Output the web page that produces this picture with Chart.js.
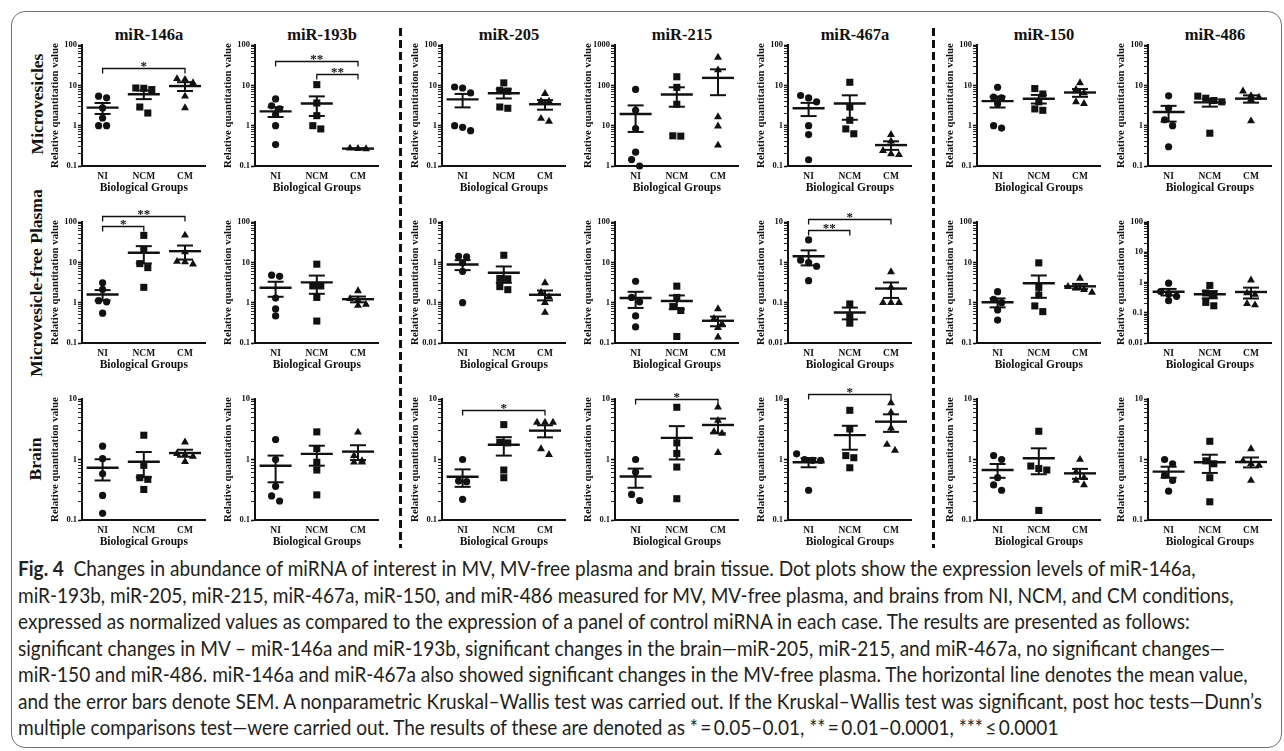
<!DOCTYPE html>
<html>
<head>
<meta charset="utf-8">
<script src="https://cdn.jsdelivr.net/npm/chart.js@4.4.1/dist/chart.umd.min.js"></script>
<style>
    html, body { margin: 0; padding: 0; background: #fff; }
    body { width: 1284px; height: 751px; position: relative; overflow: hidden; }
    #frame { position: absolute; left: 11px; top: 11px; width: 1271px; height: 737px; border: 1.5px solid #707070; border-radius: 14px; box-sizing: border-box; }
    .title { position: absolute; font: bold 16.5px "Liberation Serif", "Times New Roman", serif; color: #111; transform: translate(-50%, -50%); white-space: nowrap; }
    .rowlab { position: absolute; font: bold 17.5px "Liberation Serif", "Times New Roman", serif; color: #111; transform: translate(-50%, -50%) rotate(-90deg); white-space: nowrap; }
    .sep { position: absolute; width: 3px; background: repeating-linear-gradient(to bottom, #111 0 8px, transparent 8px 12px); }
    #caption { position: absolute; left: 18px; top: 555px; font: 20.5px Lato, "Noto Sans", sans-serif; color: #231f20; line-height: 26.5px; transform-origin: 0 0; }
    #caption .line { display: block; white-space: nowrap; width: max-content; }
    #caption b { font-weight: bold; }
    canvas { position: absolute; }
</style>
</head>
<body>
<div id="frame"></div>
<div id="caption">
    <span class="line"><b>Fig. 4</b>&nbsp; Changes in abundance of miRNA of interest in MV, MV-free plasma and brain tissue. Dot plots show the expression levels of miR-146a,</span>
    <span class="line">miR-193b, miR-205, miR-215, miR-467a, miR-150, and miR-486 measured for MV, MV-free plasma, and brains from NI, NCM, and CM conditions,</span>
    <span class="line">expressed as normalized values as compared to the expression of a panel of control miRNA in each case. The results are presented as follows:</span>
    <span class="line">significant changes in MV – miR-146a and miR-193b, significant changes in the brain—miR-205, miR-215, and miR-467a, no significant changes—</span>
    <span class="line">miR-150 and miR-486. miR-146a and miR-467a also showed significant changes in the MV-free plasma. The horizontal line denotes the mean value,</span>
    <span class="line">and the error bars denote SEM. A nonparametric Kruskal–Wallis test was carried out. If the Kruskal–Wallis test was significant, post hoc tests—Dunn’s</span>
    <span class="line">multiple comparisons test—were carried out. The results of these are denoted as *&thinsp;=&thinsp;0.05–0.01, **&thinsp;=&thinsp;0.01–0.0001, ***&thinsp;≤&thinsp;0.0001</span>
</div>
<script>
// ---- labels ----
const MIRNAS = ['miR-146a', 'miR-193b', 'miR-205', 'miR-215', 'miR-467a', 'miR-150', 'miR-486'];
const GROUPS = ['NI', 'NCM', 'CM'];
const TISSUES = ['Microvesicles', 'Microvesicle-free Plasma', 'Brain'];

// ---- Microvesicles (one inner array per miRNA) ----
const mvNI = [
    [5.4, 4.9, 2.75, 1.55, 1.0, 1.0],
    [4.6, 3.1, 2.6, 1.9, 1.0, 0.34],
    [8.6, 9.1, 6.5, 1.0, 0.75, 0.91],
    [79, 24, 8.5, 2.2, 1.44, 1.0],
    [4.87, 5.6, 3.9, 1.0, 0.6, 0.143],
    [8.97, 4.87, 5.1, 3.5, 0.87, 1.0],
    [5.5, 2.7, 1.4, 1.0, 0.3]
];
const mvNCM = [
    [8.45, 7.85, 8.6, 2.9, 2.06],
    [10.4, 3.65, 1.77, 0.83, 1.0],
    [11.5, 7.55, 7.2, 2.7, 2.9],
    [163, 89, 34, 5.5, 5.6],
    [11.9, 2.9, 1.36, 0.63, 0.83],
    [8.3, 6.1, 3.9, 2.4, 2.6],
    [5.4, 4.8, 4.2, 3.9, 0.65]
];
const mvCM = [
    [14.5, 13.9, 11.5, 5.35, 2.75],
    [0.275, 0.27, 0.265],
    [6.2, 4.0, 4.0, 1.28, 1.5],
    [494, 240, 16.5, 9.7, 3.27],
    [0.6, 0.41, 0.24, 0.19, 0.2],
    [11.5, 7.8, 6.5, 3.9, 3.5],
    [7.2, 5.5, 5.0, 4.4, 1.3]
];
const mvMean = [[2.8, 6.0, 9.6], [2.26, 3.53, 0.27], [4.48, 6.37, 3.4], [19.4, 59.5, 153], [2.7, 3.53, 0.33], [4.05, 4.66, 6.64], [2.18, 3.79, 4.68]];
const mvSem = [[0.85, 1.45, 2.36], [0.62, 1.79, 0.004], [1.64, 1.64, 0.91], [12.4, 30, 96], [0.97, 2.13, 0.079], [1.23, 1.12, 1.45], [0.92, 0.83, 0.96]];
const mvRange = [[0.1, 100], [0.1, 100], [0.1, 100], [1, 1000], [0.1, 100], [0.1, 100], [0.1, 100]];
// [fromGroup, toGroup, level, stars]
const mvSig = [[[0, 2, 27, '*']], [[0, 2, 39.7, '**'], [1, 2, 19.6, '**']], [], [], [], [], []];

// ---- Microvesicle-free plasma ----
const plNI = [
    [3.1, 2.13, 1.12, 1.05, 0.55],
    [4.5, 4.8, 1.3, 0.7, 0.47],
    [1.41, 1.36, 0.96, 0.6, 0.1],
    [3.4, 1.35, 1.05, 0.47, 0.25],
    [3.6, 0.98, 1.13, 0.8, 0.35],
    [1.2, 1.87, 1.0, 0.66, 0.37],
    [0.95, 0.5, 0.42, 0.35, 0.25]
];
const plNCM = [
    [46.6, 20.6, 9.3, 7.4, 2.4],
    [9.0, 2.6, 2.6, 1.35, 0.35],
    [1.5, 0.4, 0.39, 0.21, 0.25],
    [2.57, 0.8, 0.64, 1.35, 0.145],
    [0.093, 0.048, 0.031],
    [9.7, 2.4, 1.55, 0.83, 0.6],
    [0.8, 0.45, 0.4, 0.22, 0.17]
];
const plCM = [
    [47, 18, 10.2, 9.0, 10.5],
    [1.95, 1.25, 1.15, 0.9, 0.85],
    [0.31, 0.18, 0.14, 0.1, 0.057],
    [0.7, 0.4, 0.3, 0.24, 0.14],
    [0.58, 0.24, 0.1, 0.1, 0.1],
    [4.0, 2.5, 2.3, 2.1, 1.8],
    [1.2, 0.45, 0.4, 0.2, 0.18]
];
const plMean = [[1.59, 17.3, 18.9], [2.35, 3.18, 1.22], [0.886, 0.55, 0.157], [1.3, 1.1, 0.356], [1.41, 0.057, 0.224], [1.02, 3.02, 2.54], [0.494, 0.41, 0.486]];
const plSem = [[0.46, 7.9, 7.2], [0.95, 1.52, 0.2], [0.245, 0.24, 0.043], [0.56, 0.41, 0.096], [0.57, 0.0185, 0.093], [0.255, 1.7, 0.38], [0.12, 0.11, 0.19]];
const plRange = [[0.1, 100], [0.1, 100], [0.01, 10], [0.1, 100], [0.01, 10], [0.1, 100], [0.01, 100]];
const plSig = [[[0, 2, 137, '**'], [0, 1, 77.6, '*']], [], [], [], [[0, 2, 12, '*'], [0, 1, 6.2, '**']], [], []];

// ---- Brain ----
const brNI = [
    [1.66, 1.03, 0.58, 0.255, 0.129],
    [2.14, 1.0, 0.36, 0.206, 0.25],
    [1.0, 0.44, 0.43, 0.22],
    [1.0, 0.62, 0.265, 0.21],
    [1.24, 1.0, 0.97, 0.97, 0.31],
    [1.0, 1.16, 0.5, 0.38, 0.31],
    [1.0, 0.85, 0.55, 0.45, 0.3]
];
const brNCM = [
    [2.52, 0.8, 0.5, 0.47, 0.32],
    [2.86, 1.52, 0.9, 0.67, 0.26],
    [3.77, 1.88, 1.93, 0.67, 0.5],
    [7.3, 1.88, 1.26, 0.75, 0.225],
    [6.5, 3.2, 1.16, 1.07, 0.73],
    [2.93, 0.71, 0.67, 0.78, 0.144],
    [2.0, 0.95, 0.85, 0.5, 0.2]
];
const brCM = [
    [1.93, 1.25, 1.2, 1.12, 0.92],
    [2.82, 1.16, 0.95, 0.9, 0.9],
    [4.1, 4.1, 4.1, 1.5, 1.2],
    [7.3, 4.4, 2.9, 2.7, 1.3],
    [8.6, 6.0, 3.3, 1.77, 1.41],
    [1.0, 0.62, 0.5, 0.45, 0.38],
    [1.5, 0.95, 0.85, 0.8, 0.45]
];
const brMean = [[0.73, 0.92, 1.28], [0.79, 1.24, 1.35], [0.52, 1.75, 3.0], [0.524, 2.28, 3.72], [0.9, 2.53, 4.22], [0.67, 1.05, 0.59], [0.63, 0.9, 0.91]];
const brSem = [[0.28, 0.41, 0.17], [0.37, 0.45, 0.37], [0.167, 0.59, 0.675], [0.183, 1.28, 1.02], [0.156, 1.08, 1.36], [0.172, 0.48, 0.11], [0.13, 0.3, 0.17]];
const brRange = [[0.1, 10], [0.1, 10], [0.1, 10], [0.1, 10], [0.1, 10], [0.1, 10], [0.1, 10]];
const brSig = [[], [], [[0, 2, 6.67, '*']], [[0, 2, 10, '*']], [[0, 2, 12.3, '*']], [], []];

// ---- layout (page pixels) ----
const AXIS_X = [82, 255, 442, 615, 788, 977, 1148];
const ROW_TOP = [45, 222, 399];
const PLOT_W = 134, PLOT_H = 121;
const PAD_L = 50, PAD_T = 32, PAD_R = 8, PAD_B = 36;
const SEP_X = [400, 933];
const SERIF = '"Liberation Serif", "Times New Roman", serif';
const INK = '#111';
const MARKERS = [['circle', 3.6], ['rect', 5], ['triangle', 4.6]];

const ROWS = [
    { ni: mvNI, ncm: mvNCM, cm: mvCM, mean: mvMean, sem: mvSem, range: mvRange, sig: mvSig },
    { ni: plNI, ncm: plNCM, cm: plCM, mean: plMean, sem: plSem, range: plRange, sig: plSig },
    { ni: brNI, ncm: brNCM, cm: brCM, mean: brMean, sem: brSem, range: brRange, sig: brSig }
];

function isDecade(v) {
    const l = Math.log10(v);
    return Math.abs(l - Math.round(l)) < 1e-6;
}

function decadeLabel(v) {
    const e = Math.round(Math.log10(v));
    return e >= 0 ? String(Math.pow(10, e)) : Math.pow(10, e).toFixed(-e);
}

// draws axis titles and significance brackets
const panelDecor = {
    id: 'panelDecor',
    afterDraw(chart) {
        const { ctx, chartArea: a, scales } = chart;
        const sig = chart.options.plugins.panelDecor.sig;
        ctx.save();
        ctx.fillStyle = INK;
        ctx.strokeStyle = INK;
        ctx.textAlign = 'center';
        ctx.textBaseline = 'middle';

        ctx.font = `bold 10.8px ${SERIF}`;
        ctx.save();
        ctx.translate(a.left - 27, (a.top + a.bottom) / 2);
        ctx.rotate(-Math.PI / 2);
        ctx.fillText('Relative quantitation value', 0, 0);
        ctx.restore();

        ctx.font = `bold 11.5px ${SERIF}`;
        ctx.fillText('Biological Groups', (a.left + a.right) / 2, a.bottom + 22);

        ctx.lineWidth = 1.3;
        ctx.font = `bold 13px ${SERIF}`;
        ctx.textBaseline = 'alphabetic';
        sig.forEach(([g1, g2, level, stars]) => {
            const x1 = scales.x.getPixelForValue(g1 + 1);
            const x2 = scales.x.getPixelForValue(g2 + 1);
            const y = Math.round(scales.y.getPixelForValue(level)) + 0.5;
            ctx.beginPath();
            ctx.moveTo(x1, y + 5);
            ctx.lineTo(x1, y);
            ctx.lineTo(x2, y);
            ctx.lineTo(x2, y + 5);
            ctx.stroke();
            ctx.fillText(stars, (x1 + x2) / 2, y + 1);
        });
        ctx.restore();
    }
};

// GraphPad-like spreading: points that share a height are placed side by side
function spreadPoints(chart, count) {
    const xs = chart.scales.x, ys = chart.scales.y;
    const unit = xs.getPixelForValue(2) - xs.getPixelForValue(1);
    for (let i = 0; i < count; i++) {
        const data = chart.data.datasets[i].data;
        const order = data.map((p, j) => ({ j, py: ys.getPixelForValue(p.y) })).sort((a, b) => a.py - b.py);
        const rows = [];
        order.forEach(o => {
            const r = rows[rows.length - 1];
            if (r && o.py - r[0].py < 6.5) r.push(o); else rows.push([o]);
        });
        rows.forEach(r => r.forEach((o, k) => {
            data[o.j].x = (i + 1) + (k - (r.length - 1) / 2) * 8 / unit;
        }));
    }
    chart.update('none');
}

function buildPanel(r, c) {
    const row = ROWS[r];
    const groups = [row.ni[c], row.ncm[c], row.cm[c]];
    const mean = row.mean[c], sem = row.sem[c];
    const [lo, hi] = row.range[c];

    const canvas = document.createElement('canvas');
    const w = PAD_L + PLOT_W + PAD_R, h = PAD_T + PLOT_H + PAD_B;
    canvas.width = w;
    canvas.height = h;
    canvas.style.left = (AXIS_X[c] - PAD_L) + 'px';
    canvas.style.top = (ROW_TOP[r] - PAD_T) + 'px';
    canvas.style.width = w + 'px';
    canvas.style.height = h + 'px';
    document.body.appendChild(canvas);

    const datasets = [];
    // dots
    groups.forEach((vals, g) => {
        datasets.push({
            data: vals.map(v => ({ x: g + 1, y: v })),
            pointStyle: MARKERS[g][0],
            pointRadius: MARKERS[g][1],
            backgroundColor: INK,
            borderColor: INK,
            borderWidth: 0,
            clip: false
        });
    });
    // SEM whiskers
    groups.forEach((vals, g) => {
        datasets.push({
            showLine: true,
            data: [{ x: g + 1, y: mean[g] - sem[g] }, { x: g + 1, y: mean[g] + sem[g] }],
            borderColor: INK,
            borderWidth: 2,
            pointRadius: 0,
            clip: false
        });
    });
    // SEM caps
    datasets.push({
        data: mean.flatMap((m, g) => [{ x: g + 1, y: m + sem[g] }, { x: g + 1, y: m - sem[g] }]),
        pointStyle: 'line',
        pointRadius: 8,
        borderColor: INK,
        borderWidth: 2,
        clip: false
    });
    // mean lines
    datasets.push({
        data: mean.map((m, g) => ({ x: g + 1, y: m })),
        pointStyle: 'line',
        pointRadius: 16,
        borderColor: INK,
        borderWidth: 2.4,
        clip: false
    });

    const chart = new Chart(canvas.getContext('2d'), {
        type: 'scatter',
        data: { datasets },
        plugins: [panelDecor],
        options: {
            responsive: false,
            animation: false,
            devicePixelRatio: 1,
            layout: { padding: { top: PAD_T, right: PAD_R, left: 0, bottom: 0 } },
            plugins: {
                legend: { display: false },
                tooltip: { enabled: false },
                panelDecor: { sig: row.sig[c] }
            },
            scales: {
                x: {
                    type: 'linear',
                    min: 0.5,
                    max: 3.5,
                    afterFit: s => { s.height = PAD_B; },
                    afterBuildTicks: s => { s.ticks = [{ value: 1 }, { value: 2 }, { value: 3 }]; },
                    grid: { drawOnChartArea: false, drawTicks: false },
                    border: { color: INK, width: 2 },
                    ticks: {
                        padding: 5,
                        color: INK,
                        font: { family: SERIF, size: 9.5, weight: 'bold' },
                        callback: v => GROUPS[v - 1]
                    }
                },
                y: {
                    type: 'logarithmic',
                    min: lo,
                    max: hi,
                    afterFit: s => { s.width = PAD_L; },
                    afterBuildTicks: s => {
                        const t = [];
                        const e0 = Math.round(Math.log10(lo)), e1 = Math.round(Math.log10(hi));
                        for (let e = e0; e < e1; e++) {
                            for (let k = 1; k <= 9; k++) t.push({ value: k * Math.pow(10, e) });
                        }
                        t.push({ value: hi });
                        s.ticks = t;
                    },
                    grid: {
                        drawOnChartArea: false,
                        tickLength: 4,
                        tickColor: INK,
                        tickWidth: ctx => (ctx.tick && isDecade(ctx.tick.value)) ? 1.6 : 0.9
                    },
                    border: { color: INK, width: 2 },
                    ticks: {
                        autoSkip: false,
                        padding: 1,
                        color: INK,
                        font: { family: SERIF, size: 8.5, weight: 'bold' },
                        callback: v => isDecade(v) ? decadeLabel(v) : ''
                    }
                }
            }
        }
    });
    spreadPoints(chart, groups.length);
}

function addText(cls, text, x, y) {
    const el = document.createElement('div');
    el.className = cls;
    el.textContent = text;
    el.style.left = x + 'px';
    el.style.top = y + 'px';
    document.body.appendChild(el);
}

// column titles and row labels
MIRNAS.forEach((name, c) => addText('title', name, AXIS_X[c] + PLOT_W / 2, 35));
addText('rowlab', TISSUES[0], 37, 104);
addText('rowlab', TISSUES[1], 36, 283);
addText('rowlab', TISSUES[2], 35, 459);

// dashed separators
SEP_X.forEach(x => {
    const el = document.createElement('div');
    el.className = 'sep';
    el.style.left = (x - 1.5) + 'px';
    el.style.top = '28px';
    el.style.height = '520px';
    document.body.appendChild(el);
});

for (let r = 0; r < 3; r++) {
    for (let c = 0; c < MIRNAS.length; c++) buildPanel(r, c);
}

// squeeze the caption to the measured line width of the figure
function fitCaption() {
    const cap = document.getElementById('caption');
    cap.style.transform = 'none';
    const widths = [...cap.querySelectorAll('.line')].map(l => l.getBoundingClientRect().width);
    cap.style.transform = `scaleX(${(1262 - 18) / Math.max(...widths)})`;
}
fitCaption();
if (document.fonts) document.fonts.ready.then(fitCaption);
</script>
</body>
</html>
